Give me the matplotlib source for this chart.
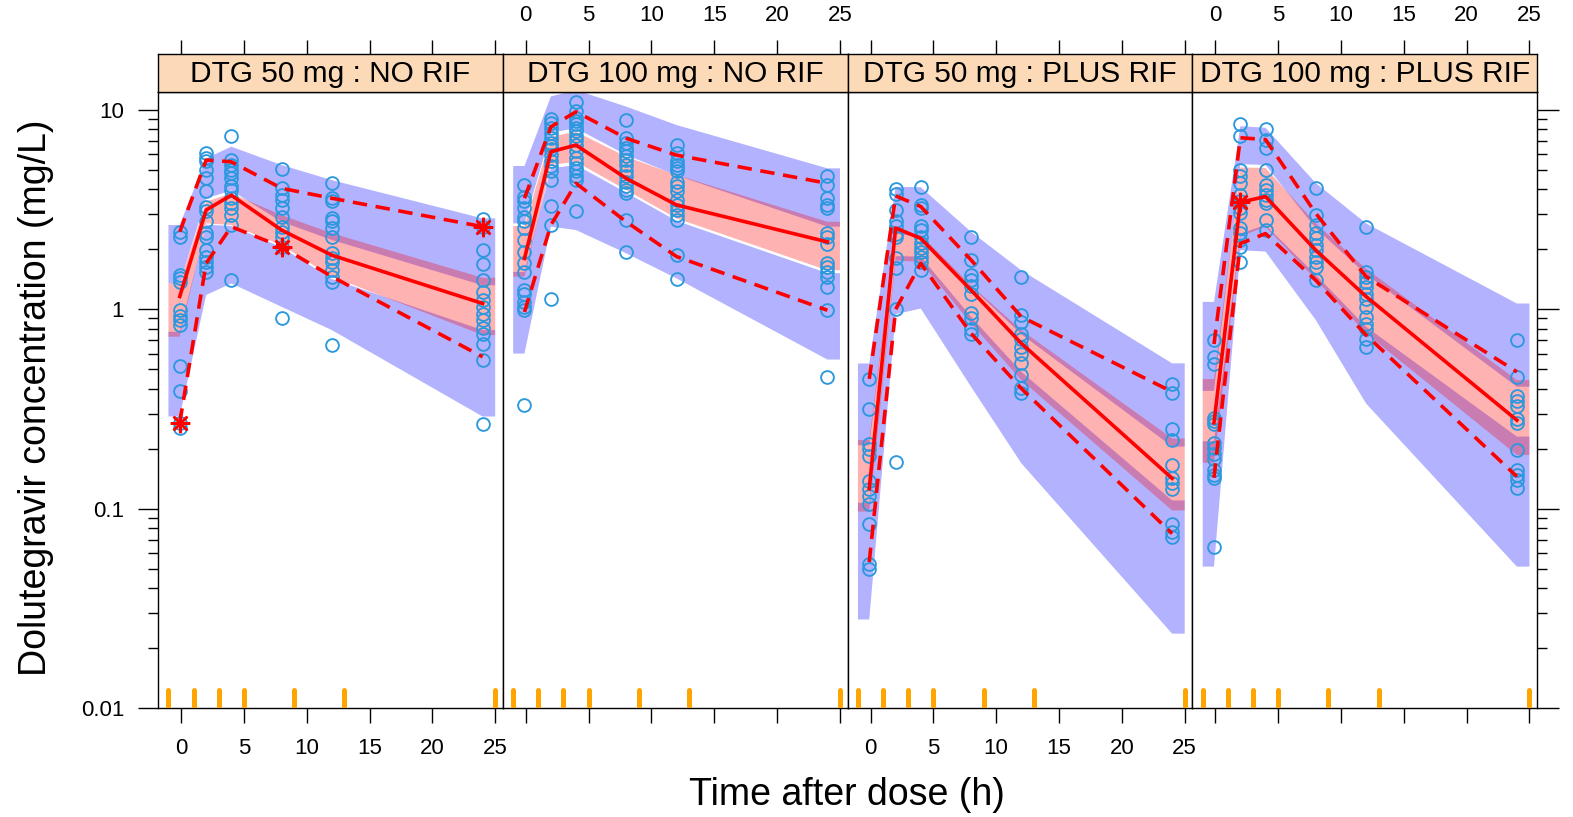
import numpy as np
import matplotlib
matplotlib.use("Agg")
import matplotlib.pyplot as plt
import matplotlib.transforms as mtransforms
from matplotlib.ticker import FixedLocator, FixedFormatter, NullFormatter

plt.rcParams['font.family'] = ['Liberation Sans', 'DejaVu Sans']

# ---------------- data ----------------
panel_titles = ["DTG 50 mg : NO RIF", "DTG 100 mg : NO RIF",
                "DTG 50 mg : PLUS RIF", "DTG 100 mg : PLUS RIF"]
bin_times = [-0.1, 2, 4, 8, 12, 24]
bin_bounds = [-1, 1, 3, 5, 9, 13, 25]
band_ends = [-1, 25]

# Panel 1: DTG 50 mg : NO RIF
up_hi_1 = [2.65, 5.72, 6.55, 5.3, 4.45, 2.86]
up_lo_1 = [1.35, 3.6, 3.95, 2.75, 2.23, 1.32]
med_hi_1 = [1.35, 3.47, 3.82, 2.97, 2.41, 1.44]
med_lo_1 = [0.729, 2.7, 2.65, 2.1, 1.46, 0.743]
lo_hi_1 = [0.772, 2.66, 2.62, 2.05, 1.42, 0.787]
lo_lo_1 = [0.29, 1.18, 1.35, 1.03, 0.787, 0.29]
obs_med_1 = [1.16, 3.15, 3.74, 2.5, 1.87, 1.07]
obs_hi_1 = [2.45, 5.61, 5.5, 4.05, 3.61, 2.6]
obs_lo_1 = [0.27, 1.7, 2.6, 2.06, 1.46, 0.578]
star_x_1 = [-0.1, 8, 24]
star_y_1 = [0.27, 2.06, 2.6]
pts_1 = [
    [2.45, 2.31, 1.48, 1.43, 1.37, 0.99, 0.93, 0.88, 0.83, 0.52, 0.39, 0.27, 0.255],
    [6.1, 5.75, 5.53, 5.02, 4.56, 3.91, 3.28, 3.1, 2.76, 2.41, 2.32, 1.98, 1.84, 1.73, 1.63, 1.54],
    [7.39, 5.64, 5.32, 5.02, 4.83, 4.56, 4.14, 3.98, 3.61, 3.41, 3.22, 2.98, 2.65, 1.4],
    [5.06, 4.06, 3.76, 3.55, 3.22, 2.92, 2.6, 2.45, 2.31, 2.06, 0.9],
    [4.3, 3.62, 3.48, 2.87, 2.76, 2.55, 2.32, 1.91, 1.8, 1.73, 1.57, 1.46, 1.37, 0.66],
    [2.83, 2.6, 1.98, 1.68, 1.41, 1.22, 1.11, 1.03, 0.95, 0.88, 0.81, 0.75, 0.67, 0.56, 0.265],
]

# Panel 2: DTG 100 mg : NO RIF
up_hi_2 = [5.24, 11.7, 12.6, 10.4, 8.41, 5.1]
up_lo_2 = [2.7, 7.7, 8.1, 5.95, 4.7, 2.6]
med_hi_2 = [2.62, 7.35, 7.78, 5.83, 4.72, 2.75]
med_lo_2 = [1.46, 5.3, 5.5, 3.97, 2.86, 1.57]
lo_hi_2 = [1.54, 5.1, 5.3, 3.85, 2.78, 1.52]
lo_lo_2 = [0.6, 2.6, 2.5, 1.91, 1.43, 0.56]
obs_med_2 = [1.8, 6.18, 6.67, 4.54, 3.34, 2.18]
obs_hi_2 = [3.61, 8.24, 9.8, 7.21, 5.94, 4.29]
obs_lo_2 = [0.97, 2.65, 4.29, 2.75, 1.84, 0.99]
star_x_2 = []
star_y_2 = []
pts_2 = [
    [4.22, 3.68, 3.48, 3.22, 2.92, 2.76, 2.55, 2.23, 1.95, 1.7, 1.54, 1.25, 1.2, 1.09, 1.03, 0.99, 0.33],
    [8.98, 8.63, 8.15, 7.69, 7.26, 6.85, 6.58, 6.34, 5.98, 5.53, 5.22, 4.92, 4.47, 3.31, 2.65, 1.13],
    [10.97, 9.89, 9.15, 8.8, 8.47, 8.15, 7.84, 7.39, 7.11, 6.71, 6.21, 5.75, 5.43, 5.13, 4.92, 4.65, 4.47, 3.13],
    [8.91, 7.26, 6.85, 6.46, 6.21, 5.91, 5.64, 5.32, 4.92, 4.65, 4.38, 4.14, 3.98, 3.83, 2.81, 1.95],
    [6.71, 6.1, 5.53, 5.32, 5.13, 4.92, 4.38, 4.14, 3.91, 3.55, 3.34, 3.16, 2.98, 2.81, 1.87, 1.42],
    [4.69, 4.22, 3.62, 3.34, 3.22, 2.41, 2.32, 2.14, 1.7, 1.63, 1.54, 1.46, 1.29, 0.99, 0.456],
]

# Panel 3: DTG 50 mg : PLUS RIF
up_hi_3 = [0.535, 4.12, 4.1, 2.45, 1.57, 0.536]
up_lo_3 = [0.208, 2.4, 2.3, 1.3, 0.75, 0.205]
med_hi_3 = [0.221, 2.5, 2.36, 1.32, 0.787, 0.225]
med_lo_3 = [0.0967, 1.76, 1.73, 0.85, 0.442, 0.098]
lo_hi_3 = [0.107, 1.85, 1.84, 0.918, 0.486, 0.11]
lo_lo_3 = [0.0278, 0.945, 1.01, 0.409, 0.169, 0.0236]
obs_med_3 = [0.126, 2.56, 2.27, 1.25, 0.675, 0.142]
obs_hi_3 = [0.448, 3.71, 3.28, 1.77, 0.918, 0.386]
obs_lo_3 = [0.054, 1.0, 1.7, 0.758, 0.401, 0.075]
star_x_3 = []
star_y_3 = []
pts_3 = [
    [0.448, 0.317, 0.212, 0.2, 0.184, 0.137, 0.126, 0.116, 0.105, 0.0835, 0.053, 0.0497],
    [4.03, 3.79, 3.14, 2.77, 2.61, 2.4, 2.3, 1.8, 1.62, 1.0, 0.172],
    [4.12, 3.34, 3.21, 2.61, 2.5, 2.3, 2.16, 2.03, 1.95, 1.83, 1.72, 1.58],
    [2.3, 1.76, 1.49, 1.4, 1.31, 1.19, 0.964, 0.906, 0.8, 0.751],
    [1.45, 0.933, 0.869, 0.751, 0.707, 0.65, 0.598, 0.54, 0.467, 0.404, 0.379],
    [0.424, 0.379, 0.251, 0.221, 0.166, 0.143, 0.134, 0.126, 0.0835, 0.0768, 0.0722],
]

# Panel 4: DTG 100 mg : PLUS RIF
up_hi_4 = [1.09, 8.3, 8.15, 4.3, 2.7, 1.07]
up_lo_4 = [0.39, 5.35, 5.3, 2.55, 1.5, 0.409]
med_hi_4 = [0.447, 5.15, 5.12, 2.7, 1.6, 0.442]
med_lo_4 = [0.17, 2.32, 2.6, 1.41, 0.758, 0.186]
lo_hi_4 = [0.218, 2.4, 2.65, 1.49, 0.818, 0.23]
lo_lo_4 = [0.0512, 1.98, 1.95, 0.884, 0.337, 0.0512]
obs_med_4 = [0.27, 3.45, 3.68, 1.98, 1.16, 0.278]
obs_hi_4 = [0.67, 7.26, 7.11, 3.03, 1.46, 0.486]
obs_lo_4 = [0.143, 2.14, 2.4, 1.4, 0.743, 0.145]
star_x_4 = [2]
star_y_4 = [3.45]
pts_4 = [
    [0.698, 0.575, 0.532, 0.286, 0.276, 0.265, 0.214, 0.202, 0.187, 0.177, 0.157, 0.148, 0.143, 0.0645],
    [8.47, 7.39, 5.02, 4.65, 4.3, 3.76, 3.48, 3.22, 3.04, 2.55, 2.41, 2.23, 2.06, 1.73],
    [8.0, 7.11, 6.46, 5.02, 4.22, 3.98, 3.76, 3.55, 3.41, 2.81, 2.5],
    [4.06, 2.98, 2.65, 2.41, 2.27, 2.1, 1.98, 1.84, 1.73, 1.63, 1.4],
    [2.58, 1.54, 1.46, 1.37, 1.29, 1.2, 1.13, 1.03, 0.915, 0.847, 0.8, 0.711, 0.646],
    [0.703, 0.459, 0.368, 0.348, 0.328, 0.281, 0.27, 0.198, 0.157, 0.148, 0.14, 0.127],
]

x_ticks = [0, 5, 10, 15, 20, 25]
y_major = [0.01, 0.1, 1, 10]
y_major_labels = ["0.01", "0.1", "1", "10"]

panels = [
    (up_hi_1, up_lo_1, med_hi_1, med_lo_1, lo_hi_1, lo_lo_1, obs_med_1, obs_hi_1, obs_lo_1, star_x_1, star_y_1, pts_1),
    (up_hi_2, up_lo_2, med_hi_2, med_lo_2, lo_hi_2, lo_lo_2, obs_med_2, obs_hi_2, obs_lo_2, star_x_2, star_y_2, pts_2),
    (up_hi_3, up_lo_3, med_hi_3, med_lo_3, lo_hi_3, lo_lo_3, obs_med_3, obs_hi_3, obs_lo_3, star_x_3, star_y_3, pts_3),
    (up_hi_4, up_lo_4, med_hi_4, med_lo_4, lo_hi_4, lo_lo_4, obs_med_4, obs_hi_4, obs_lo_4, star_x_4, star_y_4, pts_4),
]

# ---------------- layout ----------------
W, H = 1573, 817
fig = plt.figure(figsize=(W / 100, H / 100), dpi=100)

left_px, right_px = 158, 1537
top_px, bottom_px = 91.7, 708
strip_top_px = 54
pw = (right_px - left_px) / 4

XLIM = (-1.83, 25.6)
YLIM = (0.01, 12.36)

pt_color = "#2C98DE"
strip_color = "#FDDAB7"
lw_axis = 1.0

minor_y = [k * 10.0 ** e for e in (-2, -1, 0) for k in range(2, 10)]

bx = band_ends[:1] + bin_times + band_ends[1:]


def ext(v):
    return [v[0]] + list(v) + [v[-1]]


for i, (up_hi, up_lo, med_hi, med_lo, lo_hi, lo_lo, o_med, o_hi, o_lo, sx, sy, pts) in enumerate(panels):
    l = (left_px + i * pw) / W
    w = pw / W
    b = 1 - bottom_px / H
    h = (bottom_px - top_px) / H
    ax = fig.add_axes([l, b, w, h])
    ax.set_yscale("log")
    ax.set_xlim(*XLIM)
    ax.set_ylim(*YLIM)

    ax.fill_between(bx, ext(up_lo), ext(up_hi), facecolor="blue", alpha=0.3, lw=0, zorder=1)
    ax.fill_between(bx, ext(lo_lo), ext(lo_hi), facecolor="blue", alpha=0.3, lw=0, zorder=1)
    ax.fill_between(bx, ext(med_lo), ext(med_hi), facecolor="red", alpha=0.3, lw=0, zorder=1)

    for t, vals in zip(bin_times, pts):
        ax.plot([t] * len(vals), vals, "o", mfc="none", mec=pt_color, ms=9.2, mew=1.35,
                ls="none", zorder=3)

    ax.plot(bin_times, o_med, color="red", lw=2.6, zorder=4, solid_joinstyle="round")
    ax.plot(bin_times, o_hi, color="red", lw=2.6, ls=(0, (4, 2.4)), zorder=4)
    ax.plot(bin_times, o_lo, color="red", lw=2.6, ls=(0, (4, 2.4)), zorder=4)
    if sx:
        ax.plot(sx, sy, ls="none", marker=(8, 2, 0), ms=14, mew=1.8, color="red", zorder=5)

    trans = mtransforms.blended_transform_factory(ax.transData, ax.transAxes)
    for bb in bin_bounds:
        ax.plot([bb, bb], [0.004, 0.030], transform=trans, color="orange", lw=3.6,
                solid_capstyle="round", zorder=6)

    for s in ax.spines.values():
        s.set_linewidth(lw_axis)

    ax.set_xticks(x_ticks)
    ax.tick_params(axis="x", which="major", direction="out", length=11, width=lw_axis,
                   labelsize=16, pad=10.5, bottom=True, top=False,
                   labelbottom=(i in (0, 2)))
    ax.yaxis.set_major_locator(FixedLocator(y_major))
    ax.yaxis.set_major_formatter(FixedFormatter(y_major_labels))
    ax.yaxis.set_minor_locator(FixedLocator(minor_y))
    ax.yaxis.set_minor_formatter(NullFormatter())
    if i == 0:
        ax.tick_params(axis="y", which="major", direction="out", length=14.4, width=lw_axis,
                       labelsize=16, pad=10, left=True, right=False, labelleft=True)
        ax.tick_params(axis="y", which="minor", direction="out", length=7.2, width=lw_axis,
                       left=True, right=False)
    elif i == 3:
        ax.tick_params(axis="y", which="major", direction="out", length=16, width=lw_axis,
                       left=False, right=True, labelleft=False, labelright=False)
        ax.tick_params(axis="y", which="minor", direction="out", length=7.2, width=lw_axis,
                       left=False, right=True)
    else:
        ax.tick_params(axis="y", which="both", left=False, right=False,
                       labelleft=False, labelright=False)

    # strip
    sax = fig.add_axes([l, 1 - top_px / H, w, (top_px - strip_top_px) / H])
    sax.set_facecolor(strip_color)
    sax.set_xlim(*XLIM)
    sax.set_ylim(0, 1)
    sax.set_yticks([])
    sax.set_xticks(x_ticks)
    sax.tick_params(axis="x", direction="out", length=10, width=lw_axis, labelsize=16,
                    pad=10, top=True, bottom=False, labeltop=(i in (1, 3)),
                    labelbottom=False)
    for s in sax.spines.values():
        s.set_linewidth(lw_axis)
    sax.text(0.5, 0.47, panel_titles[i], transform=sax.transAxes, ha="center",
             va="center", fontsize=21.5)

fig.text(847 / W, 1 - 795 / H, "Time after dose (h)", ha="center", va="center", fontsize=27)
fig.text(36 / W, 1 - 398 / H, "Dolutegravir concentration (mg/L)", ha="center",
         va="center", rotation=90, fontsize=27)

fig.savefig("out.png", dpi=100)
